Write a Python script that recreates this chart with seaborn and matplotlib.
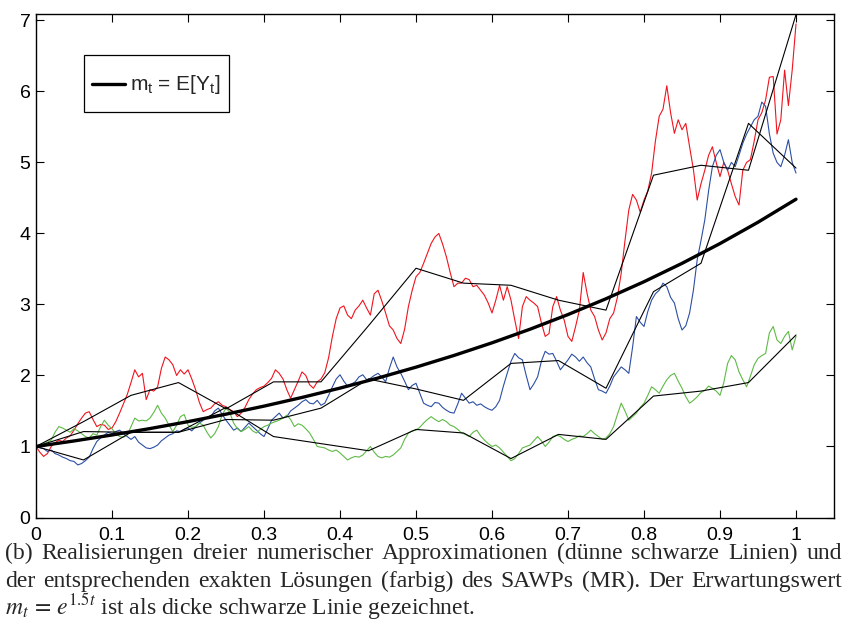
import numpy as np
import pandas as pd
import matplotlib
matplotlib.use("Agg")
import matplotlib.pyplot as plt
import seaborn as sns

# sampling grid of the exact solutions (step 0.005) and of the scheme (step 1/16)
t_fine = [round(0.005 * i, 3) for i in range(201)]
t_coarse = [k / 16 for k in range(17)]

red_exact = [
    1.00, 0.92, 0.86, 0.90, 1.00, 1.05, 1.09, 1.07, 1.12, 1.15,
    1.23, 1.32, 1.40, 1.47, 1.49, 1.38, 1.28, 1.31, 1.30, 1.24,
    1.26, 1.35, 1.47, 1.60, 1.73, 1.90, 2.08, 1.98, 2.03, 1.66,
    1.80, 1.78, 1.84, 2.10, 2.26, 2.22, 2.15, 2.00, 2.08, 2.02,
    2.08, 1.95, 1.80, 1.62, 1.49, 1.52, 1.54, 1.60, 1.63, 1.58,
    1.56, 1.52, 1.49, 1.42, 1.47, 1.55, 1.66, 1.74, 1.80, 1.83,
    1.85, 1.90, 1.96, 2.08, 2.03, 1.95, 1.80, 1.68, 1.80, 1.92,
    2.05, 2.00, 1.87, 1.82, 1.91, 1.95, 2.04, 2.25, 2.55, 2.80,
    2.95, 2.98, 2.85, 2.80, 2.92, 2.98, 3.06, 2.95, 2.85, 3.15,
    3.20, 3.05, 2.88, 2.70, 2.64, 2.52, 2.45, 2.65, 2.97, 3.20,
    3.39, 3.45, 3.58, 3.72, 3.86, 3.95, 4.00, 3.85, 3.67, 3.45,
    3.25, 3.30, 3.30, 3.37, 3.35, 3.25, 3.27, 3.20, 3.13, 3.02,
    2.88, 3.06, 3.27, 3.06, 3.25, 3.06, 2.78, 2.52, 2.97, 3.11,
    3.06, 3.02, 2.97, 2.74, 2.55, 2.59, 2.97, 3.11, 2.92, 2.78,
    2.55, 2.48, 2.69, 2.92, 3.45, 3.16, 2.92, 2.83, 2.64, 2.50,
    2.60, 2.80, 2.88, 3.10, 3.44, 3.90, 4.33, 4.55, 4.47, 4.30,
    4.47, 4.60, 4.85, 5.30, 5.65, 5.75, 6.08, 5.70, 5.41, 5.60,
    5.46, 5.55, 5.22, 4.90, 4.47, 4.70, 4.89, 5.10, 5.22, 5.00,
    4.80, 5.00, 4.89, 4.70, 4.52, 4.40, 4.89, 5.00, 5.04, 5.30,
    5.60, 5.70, 5.88, 6.20, 6.21, 5.40, 5.60, 6.30, 5.80, 6.30,
    6.95]
blue_exact = [
    1.00, 0.98, 0.97, 0.93, 0.95, 0.90, 0.88, 0.85, 0.83, 0.80,
    0.79, 0.74, 0.76, 0.80, 0.85, 0.97, 1.07, 1.12, 1.16, 1.20,
    1.18, 1.21, 1.23, 1.18, 1.14, 1.10, 1.14, 1.06, 1.02, 0.98,
    0.97, 0.99, 1.02, 1.08, 1.12, 1.16, 1.18, 1.22, 1.21, 1.24,
    1.26, 1.22, 1.28, 1.33, 1.37, 1.40, 1.42, 1.50, 1.54, 1.45,
    1.37, 1.30, 1.23, 1.26, 1.21, 1.27, 1.33, 1.28, 1.23, 1.18,
    1.14, 1.25, 1.37, 1.42, 1.47, 1.40, 1.42, 1.50, 1.54, 1.58,
    1.63, 1.66, 1.61, 1.60, 1.65, 1.58, 1.61, 1.72, 1.84, 1.95,
    2.01, 1.92, 1.85, 1.88, 1.91, 1.98, 2.01, 1.94, 1.96, 2.00,
    2.03, 1.98, 1.91, 2.10, 2.26, 2.12, 2.03, 1.92, 1.80, 1.86,
    1.89, 1.75, 1.61, 1.58, 1.56, 1.62, 1.61, 1.55, 1.51, 1.48,
    1.47, 1.60, 1.75, 1.68, 1.61, 1.63, 1.58, 1.60, 1.56, 1.53,
    1.51, 1.56, 1.65, 1.85, 2.03, 2.20, 2.31, 2.25, 2.22, 2.00,
    1.80, 1.88, 1.98, 2.20, 2.34, 2.30, 2.31, 2.20, 2.08, 2.15,
    2.22, 2.30, 2.26, 2.20, 2.26, 2.18, 2.12, 1.95, 1.80, 1.78,
    1.75, 1.85, 1.98, 2.05, 2.12, 2.08, 2.03, 2.40, 2.83, 2.75,
    2.69, 2.90, 3.06, 3.15, 3.20, 3.30, 3.25, 3.10, 3.02, 2.80,
    2.64, 2.70, 2.88, 3.20, 3.63, 3.90, 4.19, 4.60, 4.94, 5.10,
    5.18, 5.00, 4.89, 5.00, 4.94, 5.10, 5.27, 5.40, 5.50, 5.60,
    5.65, 5.85, 5.79, 5.40, 5.13, 5.00, 4.94, 5.10, 5.32, 5.00,
    4.85]
green_exact = [
    1.00, 1.03, 1.04, 1.06, 1.09, 1.20, 1.28, 1.26, 1.23, 1.20,
    1.25, 1.22, 1.18, 1.14, 1.12, 1.18, 1.16, 1.28, 1.37, 1.30,
    1.25, 1.18, 1.14, 1.13, 1.16, 1.28, 1.40, 1.36, 1.37, 1.36,
    1.40, 1.48, 1.58, 1.47, 1.40, 1.30, 1.21, 1.30, 1.42, 1.45,
    1.30, 1.27, 1.28, 1.33, 1.30, 1.20, 1.12, 1.18, 1.28, 1.45,
    1.54, 1.48, 1.33, 1.25, 1.21, 1.24, 1.28, 1.22, 1.19, 1.24,
    1.28, 1.30, 1.33, 1.35, 1.37, 1.40, 1.44, 1.38, 1.28, 1.32,
    1.30, 1.25, 1.19, 1.10, 1.00, 0.99, 0.98, 0.95, 0.93, 0.95,
    0.91, 0.86, 0.81, 0.84, 0.86, 0.85, 0.88, 0.94, 1.00, 0.92,
    0.86, 0.84, 0.86, 0.85, 0.88, 0.93, 0.98, 1.10, 1.19, 1.22,
    1.23, 1.27, 1.33, 1.38, 1.42, 1.38, 1.35, 1.38, 1.35, 1.30,
    1.28, 1.24, 1.19, 1.17, 1.14, 1.20, 1.23, 1.15, 1.09, 1.04,
    1.00, 1.02, 0.98, 0.92, 0.86, 0.80, 0.83, 0.90, 0.98, 1.00,
    1.02, 1.08, 1.14, 1.08, 1.00, 1.06, 1.14, 1.16, 1.14, 1.10,
    1.07, 1.10, 1.12, 1.15, 1.14, 1.18, 1.23, 1.18, 1.14, 1.10,
    1.12, 1.18, 1.28, 1.45, 1.61, 1.50, 1.37, 1.42, 1.47, 1.55,
    1.61, 1.72, 1.84, 1.80, 1.75, 1.85, 1.94, 2.00, 2.03, 1.92,
    1.82, 1.70, 1.61, 1.65, 1.70, 1.76, 1.79, 1.85, 1.82, 1.78,
    1.72, 1.90, 2.17, 2.28, 2.22, 2.05, 1.94, 1.84, 1.99, 2.15,
    2.24, 2.28, 2.31, 2.60, 2.69, 2.50, 2.45, 2.55, 2.62, 2.36,
    2.55]

red_approx = [1.00, 1.35, 1.72, 1.90, 1.53, 1.91, 1.91, 2.70, 3.51,
              3.30, 3.27, 3.06, 2.92, 4.82, 4.96, 4.89, 7.08]
blue_approx = [1.00, 0.81, 1.20, 1.20, 1.38, 1.37, 1.54, 1.95, 1.81,
               1.65, 2.17, 2.21, 1.82, 3.18, 3.58, 5.55, 4.92]
green_approx = [1.00, 1.21, 1.20, 1.20, 1.55, 1.14, 1.04, 0.94, 1.24,
                1.19, 0.83, 1.17, 1.10, 1.71, 1.78, 1.90, 2.57]

# expectation m_t = exp(1.5 t), tabulated
t_mean = [0.05 * i for i in range(21)]
m_mean = [1.0000, 1.0779, 1.1618, 1.2523, 1.3499, 1.4550, 1.5683, 1.6905,
          1.8221, 1.9640, 2.1170, 2.2819, 2.4596, 2.6512, 2.8577, 3.0802,
          3.3201, 3.5787, 3.8574, 4.1579, 4.4817]

path_names = ["rot", "blau", "gruen"]
path_colors = {"rot": "#f0141e", "blau": "#2c4fa3", "gruen": "#5fba46"}

exact = pd.DataFrame({
    "t": t_fine * 3,
    "y": red_exact + blue_exact + green_exact,
    "pfad": sum([[n] * len(t_fine) for n in path_names], []),
})
approx = pd.DataFrame({
    "t": t_coarse * 3,
    "y": red_approx + blue_approx + green_approx,
    "pfad": sum([[n] * len(t_coarse) for n in path_names], []),
})
mean = pd.DataFrame({"t": t_mean, "y": m_mean})

sns.set_theme(style="ticks")
plt.rcParams["font.family"] = ["Liberation Sans", "DejaVu Sans"]
plt.rcParams["mathtext.fontset"] = "stix"

fig = plt.figure(figsize=(8.5, 6.26), dpi=100)
ax = fig.add_axes([36 / 850, 1 - 517.5 / 626, 798 / 850, 503.5 / 626])

sns.lineplot(data=exact, x="t", y="y", hue="pfad", palette=path_colors,
             lw=0.8, legend=False, ax=ax, estimator=None, sort=False)
sns.lineplot(data=approx, x="t", y="y", units="pfad", estimator=None,
             color="black", lw=0.8, legend=False, ax=ax)
sns.lineplot(data=mean, x="t", y="y", color="black", lw=2.4, ax=ax,
             label=r"$\mathregular{m_t}$ = E[$\mathregular{Y_t}$]")

ax.set_xlim(0, 1.05)
ax.set_ylim(0, 7.09)
ax.set_xticks(np.arange(0, 1.01, 0.1))
ax.set_xticklabels(["0", "0.1", "0.2", "0.3", "0.4", "0.5", "0.6", "0.7",
                    "0.8", "0.9", "1"])
ax.set_yticks(range(8))
ax.set_xlabel("")
ax.set_ylabel("")
ax.tick_params(direction="in", length=6, width=0.8, top=True, right=True,
               labelsize=14, colors="black")
ax.tick_params(axis="x", pad=7)
ax.tick_params(axis="y", pad=4)
for s in ax.spines.values():
    s.set_visible(True)
    s.set_linewidth(1.0)
    s.set_color("black")

leg = ax.legend(loc="upper left", bbox_to_anchor=(0.060, 0.919),
                borderaxespad=0, fontsize=15, frameon=True, fancybox=False,
                framealpha=1, edgecolor="black", handlelength=1.55,
                handletextpad=0.25, borderpad=0.4, handleheight=2.6)
leg.get_frame().set_linewidth(0.9)
# lower the legend line to the middle of the label text
handle = leg.legend_handles[0]
handle.set_ydata(np.asarray(handle.get_ydata()) - 5.5)

# justified caption below the axes
caption_font = dict(family=["Liberation Serif", "DejaVu Serif"], size=17,
                    va="baseline", ha="left")
lines = [
    "(b) Realisierungen dreier numerischer Approximationen (dünne schwarze Linien) und",
    "der entsprechenden exakten Lösungen (farbig) des SAWPs (MR). Der Erwartungswert",
]
baselines = [559, 587]
x_left, x_right = 5 / 850, 842 / 850
renderer = fig.canvas.get_renderer()
for line, yb in zip(lines, baselines):
    words = line.split(" ")
    texts = [fig.text(x_left, 1 - yb / 626, w, **caption_font) for w in words]
    widths = [t.get_window_extent(renderer).width for t in texts]
    gap = ((x_right - x_left) * fig.bbox.width - sum(widths)) / (len(words) - 1)
    x = x_left * fig.bbox.width
    for t, w in zip(texts, widths):
        t.set_x(x / fig.bbox.width)
        x += w + gap
fig.text(x_left, 1 - 614 / 626,
         r"$m_t\,=\,e^{1.5t}$ ist als dicke schwarze Linie gezeichnet.",
         **caption_font)

fig.savefig("out.png", dpi=100)
